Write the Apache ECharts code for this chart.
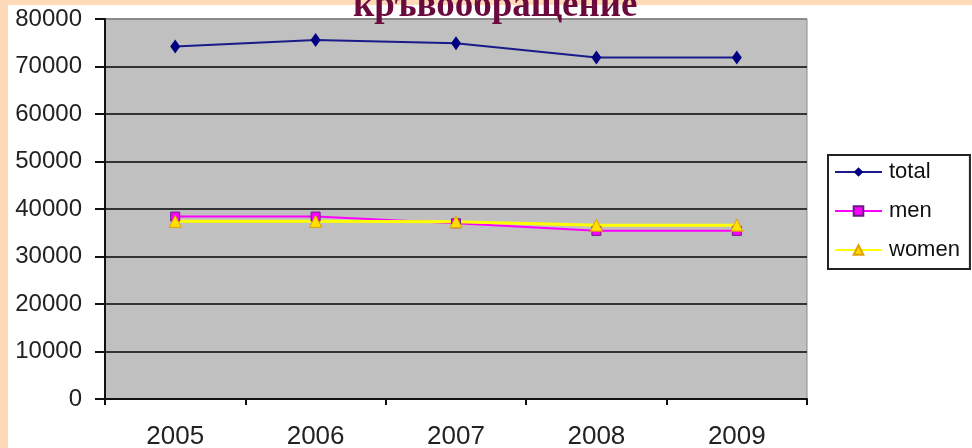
<!DOCTYPE html>
<html>
<head>
<meta charset="utf-8">
<script src="https://cdn.jsdelivr.net/npm/echarts@6/dist/echarts.min.js"></script>
<style>
html,body{margin:0;padding:0;background:#fff;}
#chart{width:972px;height:448px;}
</style>
</head>
<body>
<div id="chart"></div>
<script>
const titleText = 'кръвообращение';
const years = ['2005', '2006', '2007', '2008', '2009'];
const totalValues = [74200, 75600, 74900, 71900, 71900];
const menValues = [38400, 38400, 37000, 35400, 35400];
const womenValues = [37400, 37400, 37300, 36600, 36600];
const yTicks = { min: 0, max: 80000, interval: 10000 };

const chart = echarts.init(document.getElementById('chart'), null, { renderer: 'canvas' });

chart.setOption({
  backgroundColor: '#ffffff',
  animation: false,
  graphic: [
    { type: 'rect', left: 0, top: 0, shape: { width: 8, height: 448 }, style: { fill: '#FFDAB9' }, z: -10 },
    { type: 'rect', left: 0, top: 0, shape: { width: 972, height: 5 }, style: { fill: '#FFDAB9' }, z: -10 }
  ],
  title: {
    text: titleText,
    left: 353,
    top: -12,
    padding: 0,
    textStyle: { fontFamily: 'Liberation Serif', fontWeight: 'bold', fontSize: 37, color: '#6B0A3C' }
  },
  grid: {
    left: 105, top: 19, right: 165, bottom: 49,
    outerBoundsMode: 'none', containLabel: false,
    show: true, backgroundColor: '#C0C0C0', borderColor: '#8a8a8a', borderWidth: 1
  },
  legend: {
    orient: 'vertical',
    left: 828, top: 155,
    data: ['total', 'men', 'women'],
    itemWidth: 47, itemHeight: 12, itemGap: 17,
    padding: [6, 10, 8, 6],
    borderColor: '#222', borderWidth: 2,
    textStyle: { fontFamily: 'Liberation Sans', fontSize: 22, color: '#111', padding: [0, 0, 0, 2] }
  },
  xAxis: {
    type: 'category',
    data: years,
    boundaryGap: true,
    axisLine: { lineStyle: { color: '#111', width: 2 } },
    axisTick: { show: true, length: 6, lineStyle: { color: '#111', width: 2 } },
    axisLabel: { fontFamily: 'Liberation Sans', fontSize: 26, color: '#222', margin: 25 },
    splitLine: { show: false }
  },
  yAxis: {
    type: 'value',
    min: yTicks.min, max: yTicks.max, interval: yTicks.interval,
    axisLine: { show: true, lineStyle: { color: '#111', width: 2 } },
    axisTick: { show: true, length: 10, lineStyle: { color: '#111', width: 2 } },
    axisLabel: { fontFamily: 'Liberation Sans', fontSize: 24, color: '#222', margin: 23, formatter: function (v) { return String(v); } },
    splitLine: { show: true, lineStyle: { color: ['#333333','#333333','#333333','#333333','#333333','#333333','#333333','#333333','#8a8a8a'], width: 2 } }
  },
  series: [
    {
      name: 'total', type: 'line', data: totalValues,
      color: '#000080',
      symbol: 'diamond', symbolSize: [10, 14],
      lineStyle: { color: '#1a1a8a', width: 2 },
      itemStyle: { color: '#000080' }
    },
    {
      name: 'men', type: 'line', data: menValues,
      color: '#FF00FF',
      symbol: 'rect', symbolSize: 9,
      lineStyle: { color: '#FF00FF', width: 2 },
      itemStyle: { color: '#FF00FF', borderColor: '#6a1a8a', borderWidth: 1 }
    },
    {
      name: 'women', type: 'line', data: womenValues,
      color: '#FFFF00',
      symbol: 'triangle', symbolSize: 12,
      lineStyle: { color: '#FFFF00', width: 3 },
      itemStyle: { color: '#FFE000', borderColor: '#E0A000', borderWidth: 1 }
    }
  ]
});
</script>
</body>
</html>
